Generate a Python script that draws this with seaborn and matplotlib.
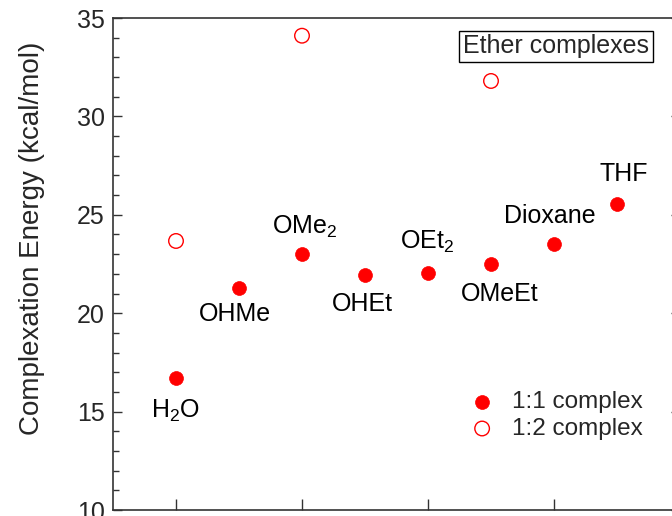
import matplotlib
matplotlib.use("Agg")
import matplotlib.pyplot as plt
import seaborn as sns
import pandas as pd
from matplotlib.ticker import MultipleLocator

# data
ligands = ["H$_2$O", "OHMe", "OMe$_2$", "OHEt", "OEt$_2$", "OMeEt", "Dioxane", "THF"]
position = [1, 2, 3, 4, 5, 6, 7, 8]
energy_1to1 = [16.7, 21.3, 23.0, 21.95, 22.05, 22.5, 23.5, 25.55]

position_1to2 = [1, 3, 6]
energy_1to2 = [23.67, 34.1, 31.8]

# label offsets from each point, in pixels (dx, dy)
label_offsets = [(-1, -33), (-4, -26), (3, 27), (-3, -29), (-1, 31), (9, -30), (-4, 28), (7, 30)]

sns.set_theme(style="ticks")
plt.rcParams["font.family"] = ["Liberation Sans", "DejaVu Sans"]
plt.rcParams["mathtext.fontset"] = "custom"
plt.rcParams["mathtext.rm"] = "Liberation Sans"
plt.rcParams["mathtext.it"] = "Liberation Sans:italic"
plt.rcParams["mathtext.default"] = "regular"

df_11 = pd.DataFrame({"pos": position, "energy": energy_1to1})
df_12 = pd.DataFrame({"pos": position_1to2, "energy": energy_1to2})

fig = plt.figure(figsize=(6.72, 5.16), dpi=100)
W, H = 672, 516
# right spine sits just outside the cropped picture, as in the reference
ax = fig.add_axes([113 / W, (H - 510) / H, (680 - 113) / W, (510 - 18) / H])

sns.scatterplot(data=df_11, x="pos", y="energy", ax=ax, color="red",
                edgecolor="red", s=100, linewidth=0.5, label="1:1 complex")
sns.scatterplot(data=df_12, x="pos", y="energy", ax=ax, facecolor="none",
                edgecolor="red", s=110, linewidth=1.0, label="1:2 complex")

for name, x, y, (dx, dy) in zip(ligands, position, energy_1to1, label_offsets):
    ax.annotate(name, (x, y), xytext=(dx, dy), textcoords="offset pixels",
                ha="center", va="center", fontsize=18, color="black")

ax.set_xlim(0, 9)
ax.set_ylim(10, 35)
ax.set_xticks([1, 3, 5, 7])
ax.set_xticklabels([])
ax.yaxis.set_major_locator(MultipleLocator(5))
ax.yaxis.set_minor_locator(MultipleLocator(1))
ax.tick_params(axis="y", which="major", direction="in", length=6.5, width=1,
               labelsize=18, right=True, color="#333333", pad=6)
ax.tick_params(axis="y", which="minor", direction="in", length=4.3, width=1,
               right=True, color="#333333")
ax.tick_params(axis="x", which="major", direction="in", length=8, width=1,
               color="#333333", top=False)
for sp in ax.spines.values():
    sp.set_visible(True)
    sp.set_color("#333333")
    sp.set_linewidth(1.2)

ax.set_xlabel("")
ax.set_ylabel("Complexation Energy (kcal/mol)", fontsize=20)
ax.yaxis.set_label_coords(-0.12, 0.553)

ax.legend(loc="upper left", bbox_to_anchor=(473 / W, 1 - 391 / H),
          bbox_transform=fig.transFigure, frameon=False, fontsize=17.5,
          borderpad=0, borderaxespad=0, handlelength=0.75,
          handletextpad=0.85, labelspacing=0.2)

fig.text(556 / W, 1 - 46.5 / H, "Ether complexes", fontsize=18,
         ha="center", va="center",
         bbox=dict(boxstyle="square,pad=0.15", facecolor="white",
                   edgecolor="black", linewidth=1))

fig.savefig("out.png", dpi=100)
